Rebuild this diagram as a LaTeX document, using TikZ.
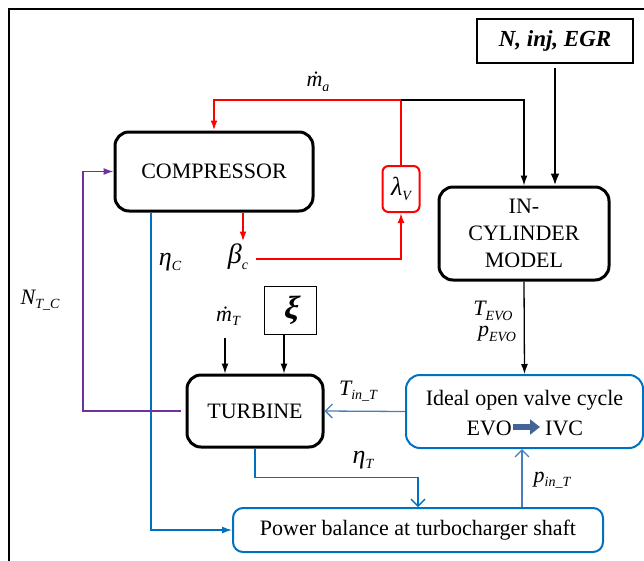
\documentclass[tikz,border=0pt]{standalone}
\usepackage{fontspec}
\setmainfont{Liberation Serif}
\newfontfamily\xifont[FakeSlant=0.22]{Liberation Serif}
\usetikzlibrary{arrows.meta}
\definecolor{myred}{RGB}{255,0,0}
\definecolor{boxblue}{RGB}{0,112,192}
\definecolor{lightblue}{RGB}{74,126,187}
\definecolor{mypurple}{RGB}{112,48,160}
\definecolor{darkarrow}{RGB}{68,100,150}
\newcommand{\sbs}[1]{\raisebox{-0.45ex}{\fontsize{14}{14}\selectfont\itshape #1}}
\begin{document}
\begin{tikzpicture}[x=1pt,y=-1pt,
  >={Latex[length=10pt,width=7pt]},
  bigbox/.style={draw,line width=3pt,rounded corners=14pt,inner sep=0pt,align=center,font=\fontsize{22}{27}\selectfont},
  bluebox/.style={draw=boxblue,line width=2pt,rounded corners=14pt,inner sep=0pt,align=center,font=\fontsize{22}{25}\selectfont},
  txt/.style={inner sep=0pt,font=\fontsize{22}{25}\selectfont},
  lbl/.style={inner sep=0pt,font=\fontsize{22}{24}\selectfont\itshape},
  glbl/.style={inner sep=0pt,font=\fontsize{26}{26}\selectfont\itshape},
  blackline/.style={draw=black,line width=1.3pt},
  thickline/.style={draw=black,line width=2.6pt,-{Latex[length=12pt,width=9pt]}},
  redline/.style={draw=myred,line width=2pt},
  bline/.style={draw=boxblue,line width=1.3pt},
  lbline/.style={draw=lightblue,line width=1.3pt},
  pline/.style={draw=mypurple,line width=1.3pt},
  openarrow/.style={-{Straight Barb[length=7pt,width=14pt]}}
]
\useasboundingbox (0,0) rectangle (644,560);
\begin{scope}
\clip (0,0) rectangle (644,560);
\draw[line width=1.5pt] (9,9) rectangle (700,620);
\end{scope}

% boxes
\node[draw,line width=1.2pt,minimum width=156,minimum height=44,inner sep=0pt,font=\fontsize{23}{26}\selectfont\bfseries\itshape] (nbox) at (555,41) {N, inj, EGR};
\node[bigbox,minimum width=198,minimum height=79] (comp) at (214,171.5) {COMPRESSOR};
\node[bigbox,minimum width=170,minimum height=93] (incyl) at (524,233.5) {IN-\\CYLINDER\\MODEL};
\node[draw=myred,line width=2pt,rounded corners=6pt,minimum width=37,minimum height=46,inner sep=0pt,font=\fontsize{26}{26}\selectfont\itshape] (lam) at (401,189) {λ\sbs{V}};
\node[draw,line width=1pt,minimum width=52,minimum height=48,inner sep=0pt,font=\fontsize{32}{32}\xifont\bfseries] (xi) at (290,310) {ξ};
\node[bigbox,minimum width=136,minimum height=72] (turb) at (255,411) {TURBINE};
\node[bluebox,minimum width=237,minimum height=73] (ideal) at (524.5,411.5) {};
\node[txt] (idealtxt) at (524.5,400) {Ideal open valve cycle};
\node[txt,anchor=east] (evo) at (512,428) {EVO};
\node[txt,anchor=west] (ivc) at (545,428) {IVC};
\draw[draw=darkarrow,line width=6pt,-{Triangle[length=10pt,width=15pt]}] ([xshift=1pt,yshift=1pt]evo.east) -- ([xshift=-5pt,yshift=1pt]ivc.west);
\node[bluebox,rounded corners=10pt,minimum width=370,minimum height=44] (power) at (418,530) {Power balance at turbocharger shaft};

% labels
\node[lbl] (ma) at (318,82) {ṁ\sbs{a}};
\node[glbl,font=\fontsize{28}{28}\selectfont\itshape] (beta) at (238,257) {β\sbs{c}};
\node[glbl] (etac) at (170,262) {η\sbs{C}};
\node[lbl] (ntc) at (40,300) {N\sbs{T\_C}};
\node[lbl] (tevo) at (493,311) {T\sbs{EVO}};
\node[lbl] (pevo) at (497,334) {p\sbs{EVO}};
\node[lbl] (mt) at (228,316) {ṁ\sbs{T}};
\node[lbl] (tin) at (358,391) {T\sbs{in\_T}};
\node[glbl] (etat) at (363,460) {η\sbs{T}};
\node[lbl] (pin) at (552,480) {p\sbs{in\_T}};

% coordinates
\coordinate (junc) at (401,100);
\coordinate (bstart) at (256,259);
\coordinate (pcorner) at (83,411);
\coordinate (mtstart) at (225,338);
\coordinate (xiout) at ([xshift=-6pt]xi.south);
\coordinate (pinstart) at ([xshift=104pt]power.north);
\coordinate (csout) at ([xshift=29pt]comp.south);
\coordinate (etacout) at ([xshift=-63pt]comp.south);

% connectors
\draw[redline,->] (lam.north) -- (junc) -| (comp.north);
\draw[blackline,->] (junc) -| (incyl.north);
\draw[thickline,shorten <=4pt] (nbox.south) -- (nbox.south |- incyl.north);
\draw[redline,->] (csout) -- ++(0,29);
\draw[redline,->] (bstart) -| (lam.south);
\draw[bline,->] (etacout) |- (power.west);
\draw[pline,->,shorten <=5pt] (turb.west) -- (pcorner) |- (comp.west);
\draw[blackline,->] (mtstart) -- (mtstart |- turb.north);
\draw[blackline,->] (xiout) -- (xiout |- turb.north);
\draw[blackline,->] (incyl.south) -- (ideal.north);
\draw[lbline,openarrow] (ideal.west) -- (turb.east);
\draw[bline,openarrow] (turb.south) -- ++(0,29) -| (power.north);
\draw[lbline,openarrow] (pinstart) -- (pinstart |- ideal.south);
\end{tikzpicture}
\end{document}
